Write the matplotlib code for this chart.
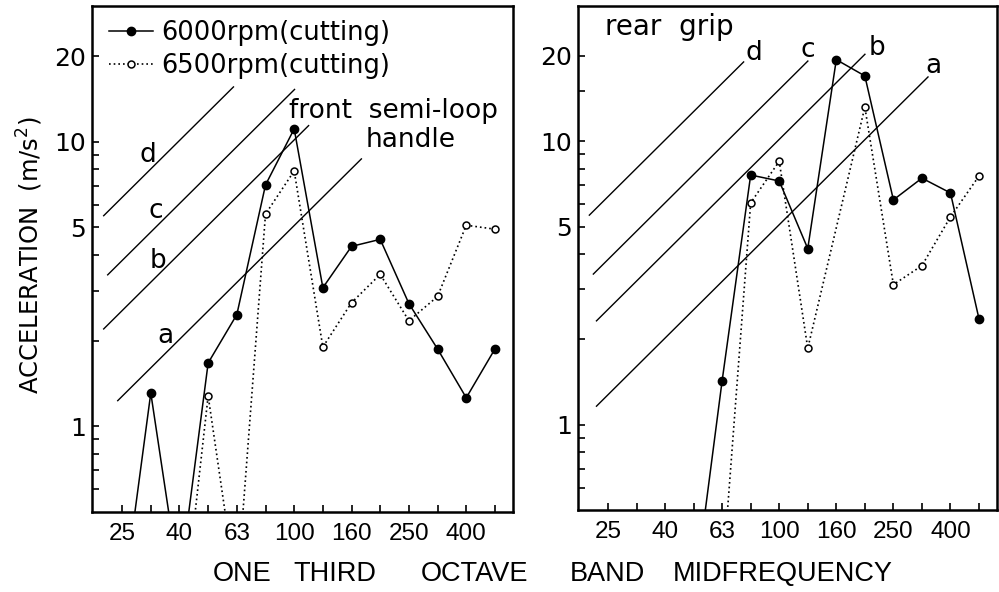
import numpy as np
import matplotlib
matplotlib.use("Agg")
import matplotlib.pyplot as plt
from matplotlib.ticker import FixedLocator, NullFormatter, FixedFormatter

# ---------------- data ----------------
bands = ['25', '31.5', '40', '50', '63', '80', '100', '125', '160', '200', '250', '315', '400', '500']
band_labels = ['25', '', '40', '', '63', '', '100', '', '160', '', '250', '', '400', '']

front_6000 = [0.23, 1.31, 0.28, 1.67, 2.47, 7.05, 11.1, 3.07, 4.29, 4.54, 2.70, 1.87, 1.26, 1.87]
front_6500 = [None, None, 0.16, 1.28, 0.26, 5.57, 7.9, 1.9, 2.72, 3.42, 2.35, 2.86, 5.09, 4.93]
rear_6000 = [None, None, None, 0.24, 1.43, 7.6, 7.24, 4.18, 19.4, 17.0, 6.21, 7.41, 6.57, 2.36]
rear_6500 = [None, None, None, None, 0.28, 6.06, 8.5, 1.86, None, 13.2, 3.12, 3.64, 5.41, 7.54]

# reference lines: acceleration proportional to frequency, a = k * f
ref_names = ['a', 'b', 'c', 'd']
ref_k = [0.051, 0.102, 0.153, 0.255]
# band-index extents of each reference line (start, end)
front_ref_start = [-0.17, -0.66, -0.52, -0.66]
front_ref_end = [8.36, 6.52, 6.03, 3.90]
rear_ref_start = [-0.42, -0.42, -0.53, -0.67]
rear_ref_end = [11.23, 9.02, 7.02, 4.77]

y_major = [1, 5, 10, 20]
y_major_labels = ['1', '5', '10', '20']
y_minor_front = [0.6, 0.7, 0.8, 0.9, 2, 3, 4, 6, 7, 8, 9]
y_minor_rear = [0.6, 0.7, 0.8, 0.9, 2, 3, 4, 6, 7, 8, 9, 15]

# ---------------- style ----------------
NARROW = ['Liberation Sans', 'DejaVu Sans']
plt.rcParams['font.family'] = ['DejaVu Sans']

W, H = 999, 592
fig = plt.figure(figsize=(W / 100, H / 100), dpi=100)
fig.patch.set_facecolor('white')


def px_axes(x0, y0, x1, y1):
    return fig.add_axes([x0 / W, 1 - y1 / H, (x1 - x0) / W, (y1 - y0) / H])


ax1 = px_axes(92, 6, 513, 512)
ax2 = px_axes(578, 6, 997, 510)

xpos = np.arange(len(bands))


def band_freq(i):
    return 25.0 * 10 ** (np.asarray(i) / 10.0)


def series(vals):
    v = np.array([np.nan if t is None else t for t in vals], dtype=float)
    m = ~np.isnan(v)
    return xpos[m], v[m]


def setup(ax, minor):
    ax.set_yscale('log')
    ax.set_ylim(0.5, 30)
    ax.set_xlim(-1.05, 13.63)
    ax.yaxis.set_major_locator(FixedLocator(y_major))
    ax.yaxis.set_major_formatter(FixedFormatter(y_major_labels))
    ax.yaxis.set_minor_locator(FixedLocator(minor))
    ax.yaxis.set_minor_formatter(NullFormatter())
    ax.set_xticks(xpos)
    ax.set_xticklabels(band_labels)
    ax.tick_params(axis='both', which='both', direction='in', width=1.2, color='black')
    ax.tick_params(axis='y', which='major', length=5, pad=4.5, labelsize=18)
    ax.tick_params(axis='y', which='minor', length=5)
    ax.tick_params(axis='x', which='major', length=5, pad=8, labelsize=17.5)
    for lab in ax.get_xticklabels():
        lab.set_family(NARROW)
    for s in ax.spines.values():
        s.set_linewidth(1.8)


def draw(ax, s6000, s6500, rs, re):
    for k, a0, a1 in zip(ref_k, rs, re):
        xi = np.array([a0, a1])
        ax.plot(xi, k * band_freq(xi), color='black', lw=1.0, solid_capstyle='butt')
    x, y = series(s6000)
    l1, = ax.plot(x, y, color='black', lw=1.1, marker='o', ms=6, mfc='black', mec='black')
    x, y = series(s6500)
    l2, = ax.plot(x, y, color='black', lw=1.2, ls=(0, (1, 1.8)), marker='o', ms=5,
                  mfc='white', mec='black', mew=1.1)
    return l1, l2


setup(ax1, y_minor_front)
setup(ax2, y_minor_rear)
h1, h2 = draw(ax1, front_6000, front_6500, front_ref_start, front_ref_end)
draw(ax2, rear_6000, rear_6500, rear_ref_start, rear_ref_end)

leg = ax1.legend([h1, h2], ['6000rpm(cutting)', '6500rpm(cutting)'], loc='upper left',
                 bbox_to_anchor=(0.023, 0.988), frameon=False, fontsize=18.5, handlelength=1.7,
                 handletextpad=0.3, labelspacing=0.3, borderaxespad=0.2, borderpad=0.1,
                 numpoints=1)


def ax1_xy(px, py):
    return (px - 92) / 421, (512 - py) / 506


def ax2_xy(px, py):
    return (px - 578) / 419, (510 - py) / 504


# annotations
ax1.text(*ax1_xy(289, 118), 'front  semi-loop', transform=ax1.transAxes, fontsize=19,
         ha='left', va='baseline')
ax1.text(*ax1_xy(366, 147), 'handle', transform=ax1.transAxes, fontsize=19,
         ha='left', va='baseline')
ax2.text(*ax2_xy(605, 35), 'rear  grip', transform=ax2.transAxes, fontsize=20,
         ha='left', va='baseline')

front_label_px = [(165, 343), (158, 268), (156, 218), (148, 162)]
rear_label_px = [(933, 73), (877, 55), (808, 57), (754, 60)]
for name, (px, py) in zip(ref_names, front_label_px):
    ax1.text(*ax1_xy(px, py), name, transform=ax1.transAxes, fontsize=19, ha='center', va='baseline')
for name, (px, py) in zip(ref_names, rear_label_px):
    ax2.text(*ax2_xy(px, py), name, transform=ax2.transAxes, fontsize=19, ha='center', va='baseline')

fig.text(30 / W, 1 - 255 / H, 'ACCELERATION  (m/s$^2$)', rotation=90, fontsize=17.5,
         ha='center', va='center')

xl_words = ['ONE', 'THIRD', 'OCTAVE', 'BAND', 'MIDFREQUENCY']
xl_centers = [242, 335, 475, 607, 783]
for w, cx in zip(xl_words, xl_centers):
    fig.text(cx / W, 1 - 581 / H, w, fontsize=19.5, ha='center', va='baseline', family=NARROW)

fig.savefig('out.png', dpi=100, facecolor='white')
